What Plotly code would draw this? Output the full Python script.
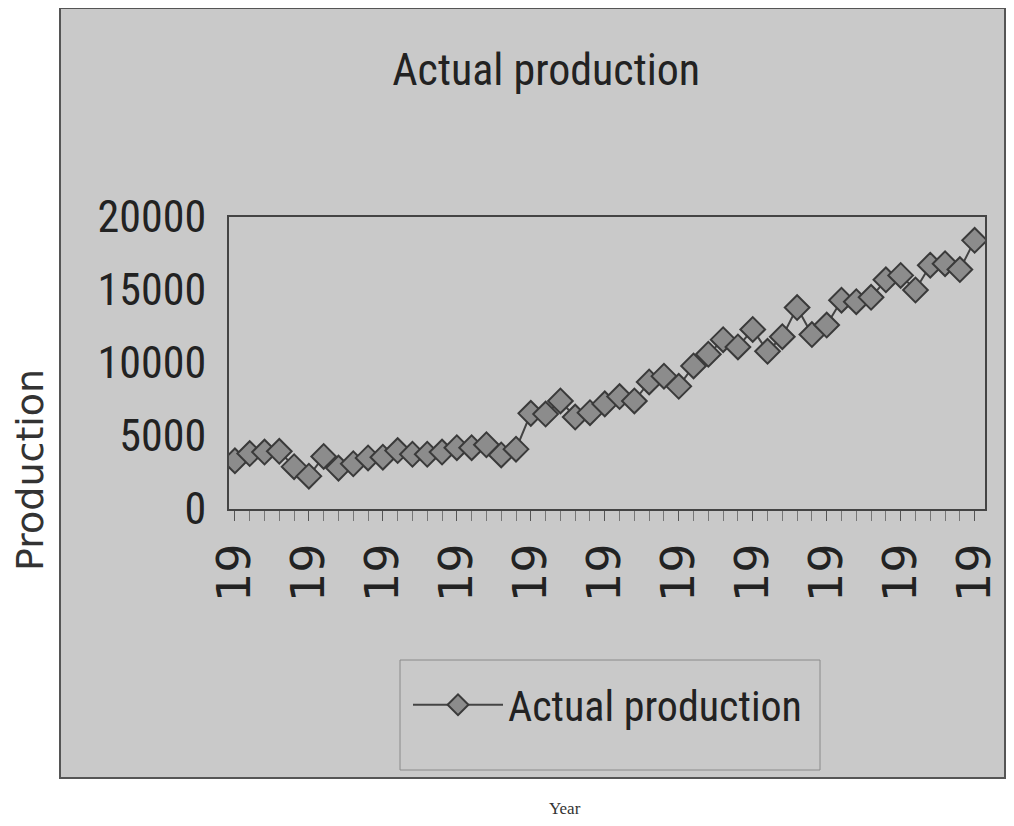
import plotly.graph_objects as go

years = list(range(1950, 2001))
production = [3300, 3800, 3900, 3950, 2900, 2250, 3600, 2800, 3100, 3500,
              3550, 4000, 3750, 3750, 3900, 4200, 4200, 4400, 3700, 4100,
              6550, 6500, 7400, 6300, 6600, 7200, 7700, 7400, 8700, 9100,
              8400, 9800, 10600, 11600, 11100, 12300, 10800, 11800, 13800, 11950,
              12600, 14300, 14200, 14500, 15700, 16000, 15000, 16700, 16800, 16400,
              18400]
tick_years = list(range(1950, 2001, 5))
tick_labels = ["19"] * len(tick_years)
y_ticks = [0, 5000, 10000, 15000, 20000]
y_tick_labels = ["0", "5000", "10000", "15000", "20000"]

NARROW = "Liberation Sans Narrow, Arial Narrow, Roboto Condensed, DejaVu Sans Condensed, sans-serif"
GRAY_BG = "#c9c9c9"

# page body has an 8px margin: figure is 8px smaller and shifted
W, H = 1006, 818
L, R, T, B = 221, 29, 209, 317
PW, PH = W - L - R, H - T - B


def px(X):  # reference page x -> paper x
    return (X - 229) / PW


def py(Y):  # reference page y -> paper y
    return (509 - Y) / PH


fig = go.Figure()
fig.add_trace(go.Scatter(
    x=years, y=production, mode="lines+markers", name="Actual production",
    line=dict(color="#444444", width=2),
    marker=dict(symbol="diamond", size=19, color="#8c8c8c",
                line=dict(color="#3a3a3a", width=2)),
))

fig.update_layout(
    width=W, height=H,
    margin=dict(l=L, r=R, t=T, b=B),
    paper_bgcolor="white",
    plot_bgcolor=GRAY_BG,
    showlegend=True,
    title=dict(text="Actual production", x=0.535, xanchor="center",
               y=1 - 62 / H, yanchor="middle",
               font=dict(family=NARROW, size=44, color="#222222")),
    legend=dict(x=px(408), y=py(705), xanchor="left", yanchor="middle",
                bgcolor="rgba(0,0,0,0)", borderwidth=0,
                font=dict(family=NARROW, size=42, color="#222222"),
                itemwidth=90),
    xaxis=dict(range=[1949.6, 2000.7], tickmode="array", tickvals=tick_years,
               ticktext=tick_labels, tickangle=-90,
               tickfont=dict(family="DejaVu Sans, sans-serif", size=46, color="#222222"),
               ticks="outside", ticklen=10, tickcolor="#555555",
               ticklabelstandoff=4,
               minor=dict(dtick=1, tick0=1950, ticks="outside", ticklen=10, tickcolor="#777777"),
               showgrid=False, zeroline=False, showline=True, linecolor="#444444",
               linewidth=2, mirror=True),
    yaxis=dict(range=[0, 20000], tickmode="array", tickvals=y_ticks,
               ticktext=y_tick_labels,
               tickfont=dict(family=NARROW, size=44, color="#222222"),
               showgrid=False, zeroline=False, showline=True, linecolor="#444444",
               linewidth=2, mirror=True, ticks="", ticklabelstandoff=12),
    shapes=[
        dict(type="rect", xref="paper", yref="paper",
             x0=px(60), x1=px(1005), y0=py(778), y1=py(8),
             fillcolor=GRAY_BG, line=dict(color="#555555", width=2),
             layer="below"),
        dict(type="rect", xref="paper", yref="paper",
             x0=px(400), x1=px(820), y0=py(770), y1=py(660),
             fillcolor="rgba(0,0,0,0)", line=dict(color="#8a8a8a", width=1),
             layer="above"),
    ],
    annotations=[
        dict(text="Production", xref="paper", yref="paper",
             x=px(30), y=py(470), xanchor="center", yanchor="middle",
             textangle=-90,
             showarrow=False, font=dict(family="DejaVu Sans", size=38, color="#333333")),
        dict(text="Year", xref="paper", yref="paper",
             x=px(565), y=py(808), xanchor="center", yanchor="middle",
             showarrow=False, font=dict(family="Liberation Serif, serif", size=17, color="#333333")),
    ],
)

fig.write_html("out.html")
